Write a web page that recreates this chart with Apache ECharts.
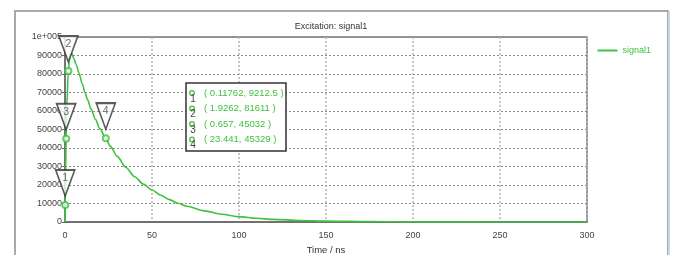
<!DOCTYPE html>
<html><head><meta charset="utf-8">
<script src="https://cdn.jsdelivr.net/npm/echarts@6/dist/echarts.min.js"></script>
<style>html,body{margin:0;padding:0;background:#fff}#c{width:675px;height:255px}</style>
</head><body><div id="c"></div>
<script>
var seriesName = 'signal1';
var timeNs = [0, 0.118, 0.657, 1.0, 1.93, 2.5, 3.2, 4, 5, 6.5, 8, 10, 11.5, 13, 15, 17.5, 20, 23.44, 26, 30, 35, 40, 45, 50, 55, 60, 65, 70, 80, 90, 100, 110, 120, 135, 150, 175, 200, 250, 300];
var signalValues = [0, 9212, 45032, 62000, 81611, 87500, 90500, 91000, 88500, 85000, 80500, 74500, 70000, 66000, 61000, 55500, 50500, 45329, 41000, 35500, 29500, 24500, 20500, 17300, 14500, 12100, 10100, 8500, 6000, 4200, 2900, 2000, 1400, 850, 480, 200, 80, 15, 2];
var markerIds = ['1', '2', '3', '4'];
var markerT = [0.11762, 1.9262, 0.657, 23.441];
var markerV = [9212.5, 81611, 45032, 45329];
var xTicks = [0, 50, 100, 150, 200, 250, 300];
var yTopLabel = '1e+005';

var green = '#3fc23f';
var font = '"Liberation Sans", "DejaVu Sans", sans-serif';

var chart = echarts.init(document.getElementById('c'), null, {renderer: 'canvas'});

var lineData = timeNs.map(function (t, i) { return [t, signalValues[i]]; });
var markData = markerT.map(function (t, i) { return [t, markerV[i]]; });

var boxChildren = [{
  type: 'rect', z: 100, shape: {x: 0, y: 0, width: 100, height: 68},
  style: {fill: '#fff', stroke: '#333', lineWidth: 1.5}
}];
markerIds.forEach(function (id, i) {
  var y = 10 + i * 15.5;
  boxChildren.push({type: 'circle', z: 101, shape: {cx: 6, cy: y, r: 2.3}, style: {fill: 'none', stroke: green, lineWidth: 1.3}});
  boxChildren.push({type: 'text', z: 101, x: 7, y: y + 6, style: {text: id, fill: '#444', font: '10px ' + font, align: 'center', verticalAlign: 'middle'}});
  boxChildren.push({type: 'text', z: 101, x: 18, y: y, style: {text: '( ' + markerT[i] + ', ' + markerV[i] + ' )', fill: green, font: '9.5px ' + font, verticalAlign: 'middle'}});
});

chart.setOption({
  animation: false,
  backgroundColor: '#fff',
  title: {
    text: 'Excitation: ' + seriesName, left: 326, top: 17, textAlign: 'center',
    textStyle: {fontSize: 9, fontWeight: 'normal', color: '#333', fontFamily: font}
  },
  legend: {
    right: 19, top: 41, itemWidth: 20, itemHeight: 2, icon: 'rect', itemGap: 4,
    data: [seriesName],
    textStyle: {color: green, fontSize: 9, fontFamily: font}
  },
  grid: {left: 65, right: 88, top: 37, bottom: 33, show: true, borderColor: '#777', borderWidth: 1.5, backgroundColor: '#fff', outerBoundsMode: 'none', containLabel: false},
  xAxis: {
    type: 'value', min: 0, max: 300, interval: 50,
    name: 'Time / ns', nameLocation: 'middle', nameGap: 22,
    nameTextStyle: {fontSize: 9.5, color: '#333', fontFamily: font},
    axisLine: {show: true, lineStyle: {color: '#666', width: 1.5}},
    axisTick: {show: false},
    axisLabel: {margin: 9, fontSize: 9, color: '#444', fontFamily: font,
      formatter: function (v) { return xTicks.indexOf(v) >= 0 ? String(v) : ''; }},
    splitLine: {show: true, lineStyle: {color: '#b5b5b5', type: [2, 2], width: 1.5}}
  },
  yAxis: {
    type: 'value', min: 0, max: 100000, interval: 10000,
    axisLine: {show: true, lineStyle: {color: '#666', width: 1.5}},
    axisTick: {show: true, length: 3, lineStyle: {color: '#666'}},
    axisLabel: {margin: 3, fontSize: 9, color: '#444', fontFamily: font,
      formatter: function (v) { return v === 100000 ? yTopLabel : String(v); }},
    splitLine: {show: true, lineStyle: {color: '#888', type: [2, 2], width: 1}}
  },
  series: [{
    name: seriesName, type: 'line', data: lineData, showSymbol: false, symbol: 'none',
    smooth: 0.3, smoothMonotone: 'x',
    lineStyle: {color: green, width: 1.6}, itemStyle: {color: green}, z: 3
  }, {
    name: 'markers', type: 'scatter', data: markData, symbol: 'emptyCircle', symbolSize: 6,
    itemStyle: {color: green, borderColor: green, borderWidth: 1.3}, z: 4
  }, {
    name: 'flags', type: 'scatter', data: markData,
    symbol: 'path://M0,0 L19,0 L9.5,26 Z', symbolSize: [19, 26], symbolOffset: [0, -22],
    itemStyle: {color: '#fff', borderColor: '#333', borderWidth: 1.8},
    label: {show: true, position: 'inside', offset: [0, -5], fontSize: 10.5, color: '#444', fontFamily: font,
      formatter: function (p) { return markerIds[p.dataIndex]; }},
    z: 5
  }],
  graphic: [{
    type: 'rect', shape: {x: 15, y: 11, width: 653, height: 270},
    style: {fill: 'none', stroke: '#a9a9a9', lineWidth: 2}, silent: true
  }, {
    type: 'line', shape: {x1: 669, y1: 11, x2: 669, y2: 260},
    style: {stroke: '#c9d8ec', lineWidth: 2}, silent: true
  }, {
    type: 'group', x: 186, y: 83, z: 100, children: boxChildren
  }]
});
</script></body></html>
